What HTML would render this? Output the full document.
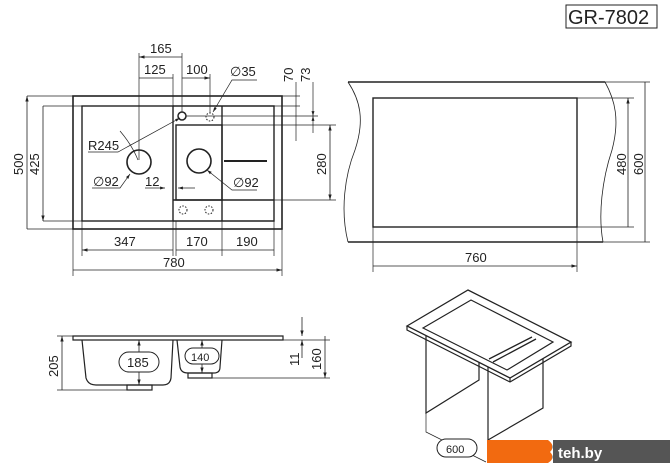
<!DOCTYPE html>
<html><head><meta charset="utf-8"><style>
html,body{margin:0;padding:0;background:#fff;width:670px;height:471px;overflow:hidden}
svg{display:block}
text{font-family:"Liberation Sans",Arial,sans-serif;fill:#222}
.d{font-family:"DejaVu Sans",sans-serif}
</style></head><body>
<svg width="670" height="471" viewBox="0 0 670 471" xmlns="http://www.w3.org/2000/svg">
<defs>
<marker id="a" viewBox="0 0 10 10" refX="10" refY="5" markerWidth="7" markerHeight="7" orient="auto-start-reverse"><path d="M0,2L10,5L0,8z" fill="#222"/></marker>
</defs>
<g stroke="#222" fill="none" stroke-width="1">
<rect x="73" y="96" width="209" height="133" stroke-width="1.6"/>
<rect x="82" y="106" width="91" height="115" stroke-width="1.4"/>
<rect x="176" y="125" width="46" height="75" stroke-width="1.4"/>
<path d="M173,106H274V221H173M222,106V221M173,200H274" stroke-width="1.4"/>
<path d="M224,161H267" stroke-width="2"/>
<circle cx="139" cy="162" r="12" stroke-width="1.6"/>
<circle cx="199" cy="161" r="12" stroke-width="1.6"/>
<circle cx="182" cy="116" r="4" stroke-width="1.5"/>
<g stroke-dasharray="1.5,1.5"><circle cx="210" cy="117" r="4"/><circle cx="183" cy="210" r="4"/><circle cx="209" cy="210" r="4"/></g>
<path d="M139,160V53M182,112V53M173,106V74M210,113V74M27,96H73M43,106H82M27,229H73M43,221H82" stroke-width="0.7"/>
<path d="M139,57H182M139,78H173M182,78H210" marker-start="url(#a)" marker-end="url(#a)" stroke-width="0.8"/>
<path d="M27,96V229M43,106V221" marker-start="url(#a)" marker-end="url(#a)" stroke-width="0.8"/>
<path d="M82,221V256M173,221V256M176,221V256M222,221V256M274,221V256M73,229V276M282,229V276" stroke-width="0.7"/>
<path d="M82,250H173M176,250H222M222,250H274M73,270H282" marker-start="url(#a)" marker-end="url(#a)" stroke-width="0.8"/>
<path d="M88,152H118L180,118" stroke-width="0.7" marker-end="url(#a)"/>
<path d="M120,131Q132,145 138,160" stroke-width="0.7"/>
<path d="M92,188H120L130,174" stroke-width="0.7" marker-end="url(#a)"/>
<path d="M257,190H232L207,170" stroke-width="0.7" marker-end="url(#a)"/>
<path d="M257,80H232L213,112" stroke-width="0.7" marker-end="url(#a)"/>
<path d="M145,188H165" stroke-width="0.7" marker-end="url(#a)"/>
<path d="M195,188H178" stroke-width="0.7" marker-end="url(#a)"/>
<path d="M282,96H300M274,106H300M186,116H318M222,125H336M274,200H336" stroke-width="0.7"/>
<path d="M296,82V106M313,82V116" stroke-width="0.7" marker-end="url(#a)"/>
<path d="M296,141V106M313,133V116" stroke-width="0.7" marker-end="url(#a)"/>
<path d="M330,125V200" marker-start="url(#a)" marker-end="url(#a)" stroke-width="0.8"/>
<path d="M348,82H605M348,242H603" stroke-width="1.4"/>
<path d="M348,82C360,100 365,120 355,150C345,175 340,210 348,242" stroke-width="0.8"/>
<path d="M605,82C615,100 620,120 612,150C602,180 598,215 603,242" stroke-width="0.8"/>
<rect x="373" y="98" width="204" height="129" stroke-width="1.4"/>
<path d="M577,98H634M577,227H634M603,82H650M603,242H650M373,227V272M577,227V272" stroke-width="0.7"/>
<path d="M628,98V227M645,82V242M373,266H577" marker-start="url(#a)" marker-end="url(#a)" stroke-width="0.8"/>
<rect x="566" y="5" width="91" height="23" stroke-width="1"/>
<path d="M73,336H283V340H73Z" stroke-width="1.2"/>
<path d="M82,340L86,378Q88,385 96,385H163Q170,385 171,378L173,340" stroke-width="1.2"/>
<rect x="127" y="385" width="25" height="5" stroke-width="1.2"/>
<path d="M177,340L180,367Q181,373 188,373H214Q220,373 220,367L222,340" stroke-width="1.2"/>
<rect x="188" y="373" width="24" height="5" stroke-width="1.2"/>
<path d="M57,336H73M57,390H152M212,378H330M283,340H330" stroke-width="0.7"/>
<path d="M62,336V390M325,336V378" marker-start="url(#a)" marker-end="url(#a)" stroke-width="0.8"/>
<path d="M139,340V385" marker-start="url(#a)" marker-end="url(#a)" stroke-width="0.8"/>
<path d="M202,340V373" marker-start="url(#a)" marker-end="url(#a)" stroke-width="0.8"/>
<path d="M302,317V336" marker-end="url(#a)" stroke-width="0.8"/>
<path d="M302,358V340" marker-end="url(#a)" stroke-width="0.8"/>
<rect x="119" y="352" width="40" height="20" rx="10" fill="#fff" stroke-width="1"/>
<rect x="185" y="348" width="34" height="16" rx="8" fill="#fff" stroke-width="1"/>
<path d="M426,333V413L479,380V305M488,358V463M543,357V408L488,440" stroke-width="1.2"/>
<path d="M407,326L468,290L571,342L510,378Z" fill="#fff" stroke-width="1.3"/>
<path d="M407,326V330L510,382L571,346V342M510,378V382" stroke-width="1.2"/>
<path d="M423,328L471,300L553,342L507,370Z" stroke-width="1.2"/>
<path d="M489,359L532,337M493,362L536,339" stroke-width="1.3"/>
<path d="M426,413V432L486,462" stroke-width="0.7"/>
<rect x="437" y="439" width="40" height="18" rx="9" fill="#fff" stroke-width="1"/>
</g>
<rect x="487" y="440" width="65" height="23" fill="#f26a10"/>
<rect x="552" y="440" width="118" height="23" fill="#555"/>
<path d="M548,440Q556,446 550,452Q556,458 548,463H553V440Z" fill="#fff"/>
<g font-size="13" style="font-weight:500">
<text x="150" y="53">165</text>
<text x="144" y="74">125</text>
<text x="186" y="74">100</text>
<text x="230" y="76"><tspan class="d">∅</tspan>35</text>
<text x="88" y="150">R245</text>
<text x="93" y="186"><tspan class="d">∅</tspan>92</text>
<text x="233" y="187"><tspan class="d">∅</tspan>92</text>
<text x="145" y="186">12</text>
<text x="114" y="246">347</text>
<text x="186" y="246">170</text>
<text x="236" y="246">190</text>
<text x="163" y="267">780</text>
<text x="465" y="262">760</text>
<text transform="translate(23,175) rotate(-90)">500</text>
<text transform="translate(39,175) rotate(-90)">425</text>
<text transform="translate(293,82) rotate(-90)">70</text>
<text transform="translate(310,82) rotate(-90)">73</text>
<text transform="translate(326,175) rotate(-90)">280</text>
<text transform="translate(626,175) rotate(-90)">480</text>
<text transform="translate(643,175) rotate(-90)">600</text>
<text transform="translate(58,377) rotate(-90)">205</text>
<text transform="translate(299,366) rotate(-90)">11</text>
<text transform="translate(321,370) rotate(-90)">160</text>
<text x="127" y="367">185</text>
<text x="191" y="361" font-size="11">140</text>
<text x="446" y="453" font-size="11">600</text>
<text x="568" y="24" font-size="20">GR-7802</text>
<text x="558" y="458" font-size="15" style="fill:#fff;font-weight:bold">teh.by</text>
</g>
</svg>
</body></html>
